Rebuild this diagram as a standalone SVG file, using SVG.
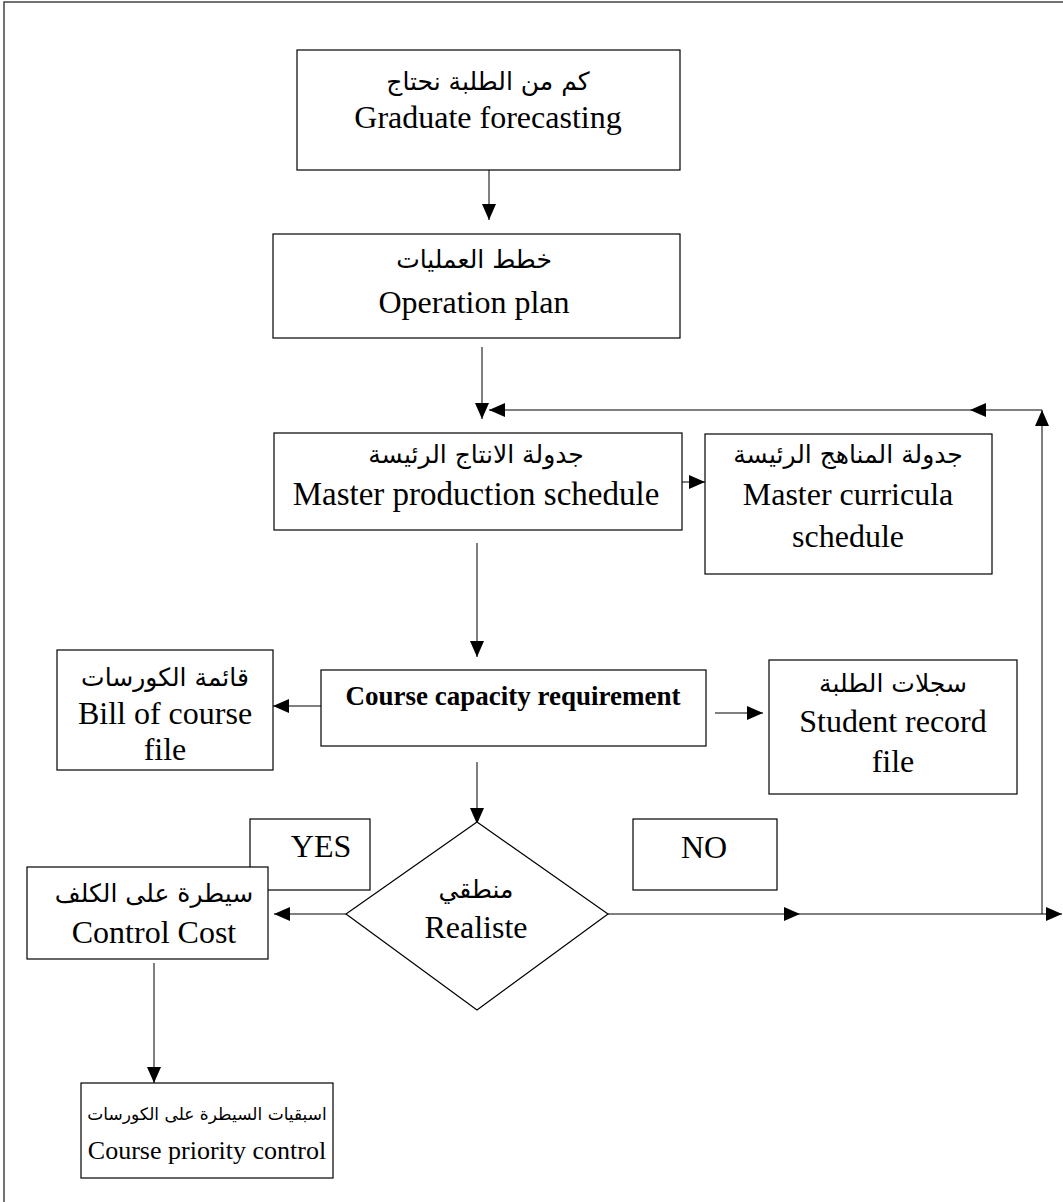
<svg xmlns="http://www.w3.org/2000/svg" width="1063" height="1202" viewBox="0 0 1063 1202">
<defs>
<marker id="ah" markerUnits="userSpaceOnUse" markerWidth="16" markerHeight="14" refX="16" refY="7" orient="auto"><path d="M0,0 L16,7 L0,14 z" fill="#000"/></marker>
<style>
.box{fill:#fff;stroke:#000;stroke-width:1.2}
.t{font-family:"Liberation Serif","DejaVu Sans",serif;font-size:32px;fill:#000;text-anchor:middle}
.ar{font-family:"DejaVu Sans","Liberation Serif",sans-serif;font-size:25px;fill:#000;text-anchor:middle}
.b{font-weight:bold;font-size:27px}
.c{stroke:#000;stroke-width:1;fill:none;marker-end:url(#ah)}
</style>
</defs>
<rect x="4" y="2" width="1100" height="1250" fill="#fff" stroke="#444" stroke-width="1.5"/>
<g id="connectors">
<line class="c" x1="489" y1="170" x2="489" y2="220"/>
<line class="c" x1="482" y1="347" x2="482" y2="419"/>
<line class="c" x1="1042" y1="914" x2="1042" y2="410"/>
<line class="c" x1="1042" y1="410" x2="970" y2="410"/>
<line class="c" x1="970" y1="410" x2="489" y2="410"/>
<line class="c" x1="682" y1="482" x2="705" y2="482"/>
<line class="c" x1="477" y1="543" x2="477" y2="657"/>
<line class="c" x1="321" y1="706" x2="273" y2="706"/>
<line class="c" x1="715" y1="713" x2="763" y2="713"/>
<line class="c" x1="477" y1="762" x2="477" y2="824"/>
<line class="c" x1="346" y1="914" x2="274" y2="914"/>
<line class="c" x1="608" y1="914" x2="800" y2="914"/>
<line class="c" x1="800" y1="914" x2="1062" y2="914"/>
<line class="c" x1="154" y1="963" x2="154" y2="1083"/>
</g>
<g id="n1"><rect class="box" x="297" y="50" width="383" height="120"/>
<text class="ar" x="488" y="90">كم من الطلبة نحتاج</text>
<text class="t" x="488" y="128">Graduate forecasting</text></g>
<g id="n2"><rect class="box" x="273" y="234" width="407" height="104"/>
<text class="ar" x="474" y="268">خطط العمليات</text>
<text class="t" x="474" y="313">Operation plan</text></g>
<g id="n3"><rect class="box" x="274" y="433" width="408" height="97"/>
<text class="ar" x="476" y="463">جدولة الانتاج الرئيسة</text>
<text class="t" x="476" y="505" style="font-size:33px">Master production schedule</text></g>
<g id="n4"><rect class="box" x="705" y="434" width="287" height="140"/>
<text class="ar" x="848" y="463">جدولة المناهج الرئيسة</text>
<text class="t" x="848" y="505">Master curricula</text>
<text class="t" x="848" y="547">schedule</text></g>
<g id="n5"><rect class="box" x="321" y="670" width="385" height="76"/>
<text class="t b" x="513" y="705">Course capacity requirement</text></g>
<g id="n6"><rect class="box" x="57" y="650" width="216" height="120"/>
<text class="ar" x="165" y="686">قائمة الكورسات</text>
<text class="t" x="165" y="724">Bill of course</text>
<text class="t" x="165" y="760">file</text></g>
<g id="n7"><rect class="box" x="769" y="660" width="248" height="134"/>
<text class="ar" x="893" y="692">سجلات الطلبة</text>
<text class="t" x="893" y="732">Student record</text>
<text class="t" x="893" y="772">file</text></g>
<g id="n8"><rect class="box" x="250" y="819" width="120" height="71"/>
<text class="t" x="321" y="857">YES</text></g>
<g id="n9"><rect class="box" x="633" y="819" width="144" height="71"/>
<text class="t" x="704" y="858">NO</text></g>
<g id="n10"><rect class="box" x="27" y="867" width="241" height="92"/>
<text class="ar" x="154" y="902">سيطرة على الكلف</text>
<text class="t" x="154" y="943">Control Cost</text></g>
<g id="n11"><polygon class="box" points="477,822 608,914 477,1010 346,914"/>
<text class="ar" x="476" y="898">منطقي</text>
<text class="t" x="476" y="938">Realiste</text></g>
<g id="n12"><rect class="box" x="81" y="1083" width="252" height="95"/>
<text class="ar" x="207" y="1120" style="font-size:17px">اسبقيات السيطرة على الكورسات</text>
<text class="t" x="207" y="1159" style="font-size:26px">Course priority control</text></g>
</svg>
